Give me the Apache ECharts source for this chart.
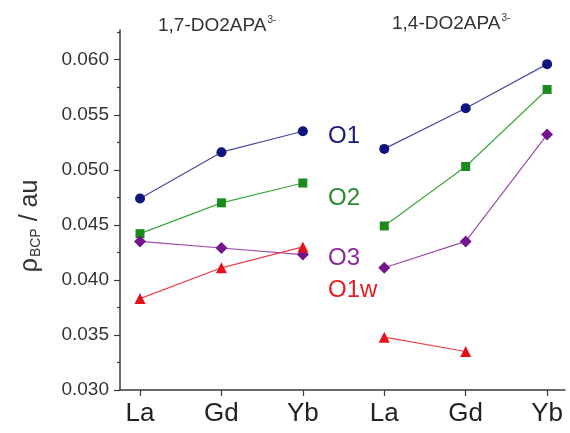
<!DOCTYPE html>
<html>
<head>
<meta charset="utf-8">
<title>rho BCP</title>
<script src="https://cdn.jsdelivr.net/npm/echarts@6/dist/echarts.min.js"></script>
<style>
  html, body { margin: 0; padding: 0; background: #fff; }
  #chart { width: 570px; height: 433px; }
</style>
</head>
<body>
<div id="chart"></div>
<script>
// lanthanide per complex, two complexes side by side
const categories = ['La', 'Gd', 'Yb', 'La', 'Gd', 'Yb']
const xPos = [1, 2, 3, 4, 5, 6]
const o1 = [0.0474, 0.0516, 0.0535, 0.0519, 0.0556, 0.0596]
const o2 = [0.0442, 0.0470, 0.0488, 0.0449, 0.0503, 0.0573]
const o3 = [0.0435, 0.0429, 0.0423, 0.0411, 0.0435, 0.0532]
const o1w = [0.0383, 0.0411, 0.0430, 0.0348, 0.0335, null]
const yTicks = [0.030, 0.035, 0.040, 0.045, 0.050, 0.055, 0.060]

const font = 'Liberation Sans, Arial, sans-serif'
const axisColor = '#3a3a3a'

const groups = [
  { name: 'O1', values: o1, symbol: 'circle', size: 10, color: '#10147e', line: '#4a4aa0' },
  { name: 'O2', values: o2, symbol: 'rect', size: 9, color: '#1c8a1c', line: '#3ea83e' },
  { name: 'O3', values: o3, symbol: 'diamond', size: 12, color: '#74168a', line: '#9a4aa8' },
  { name: 'O1w', values: o1w, symbol: 'triangle', size: 11, color: '#e4101c', line: '#e8404a' }
]

// split each row in two, one line per complex
let series = []
groups.forEach(g => {
  [[0, 3], [3, 6]].forEach(([a, b]) => {
    let pts = []
    for (let i = a; i < b; i++) {
      if (g.values[i] != null) pts.push([xPos[i], g.values[i]])
    }
    series.push({
      name: g.name,
      type: 'line',
      data: pts,
      symbol: g.symbol,
      symbolSize: g.size,
      itemStyle: { color: g.color },
      lineStyle: { color: g.line, width: 1.2 },
      z: 3,
      animation: false
    })
  })
})

const chart = echarts.init(document.getElementById('chart'))
chart.setOption({
  animation: false,
  grid: { left: 120, right: 5, top: 30, bottom: 43 },
  xAxis: {
    type: 'value',
    min: 0.754,
    max: 6.22,
    splitLine: { show: false },
    axisLine: { lineStyle: { color: axisColor, width: 1.5 } },
    axisTick: { customValues: xPos, length: 6, lineStyle: { color: axisColor, width: 1.2 } },
    axisLabel: {
      customValues: xPos,
      formatter: v => categories[Math.round(v) - 1],
      fontSize: 26,
      fontFamily: font,
      color: '#222',
      margin: 11
    }
  },
  yAxis: {
    type: 'value',
    min: 0.030,
    max: 0.0627,
    interval: 0.005,
    splitLine: { show: false },
    axisLine: { show: true, lineStyle: { color: axisColor, width: 1.5 } },
    axisTick: { customValues: yTicks, length: 6, lineStyle: { color: axisColor, width: 1.2 } },
    minorTick: { show: true, splitNumber: 2, length: 3, lineStyle: { color: axisColor, width: 1.2 } },
    axisLabel: {
      customValues: yTicks,
      formatter: v => v.toFixed(3),
      fontSize: 19,
      fontFamily: font,
      color: '#333',
      margin: 11
    }
  },
  graphic: [
    {
      type: 'text', left: 158, top: 15,
      style: {
        text: '1,7-DO2APA{sup|3-}',
        font: '19px ' + font, fill: '#333',
        rich: { sup: { fontSize: 10, fontFamily: font, fill: '#333', padding: [0, 0, 12, 1] } }
      }
    },
    {
      type: 'text', left: 392, top: 13,
      style: {
        text: '1,4-DO2APA{sup|3-}',
        font: '19px ' + font, fill: '#333',
        rich: { sup: { fontSize: 10, fontFamily: font, fill: '#333', padding: [0, 0, 12, 1] } }
      }
    },
    {
      type: 'text', x: 30, y: 226, rotation: Math.PI / 2,
      style: {
        text: '{r|ρ}{s|BCP}{r| / au}',
        align: 'center', verticalAlign: 'middle',
        rich: {
          r: { fontSize: 25, fontFamily: font, fill: '#333' },
          s: { fontSize: 14, fontFamily: font, fill: '#333', padding: [12, 0, 0, 1] }
        }
      }
    },
    { type: 'text', left: 328, top: 124, style: { text: 'O1', font: '24px ' + font, fill: '#1a1a78' } },
    { type: 'text', left: 328, top: 186, style: { text: 'O2', font: '24px ' + font, fill: '#2a8c2a' } },
    { type: 'text', left: 328, top: 246, style: { text: 'O3', font: '24px ' + font, fill: '#8a2a9a' } },
    { type: 'text', left: 328, top: 278, style: { text: 'O1w', font: '24px ' + font, fill: '#e41e24' } }
  ],
  series: series
})
</script>
</body>
</html>
